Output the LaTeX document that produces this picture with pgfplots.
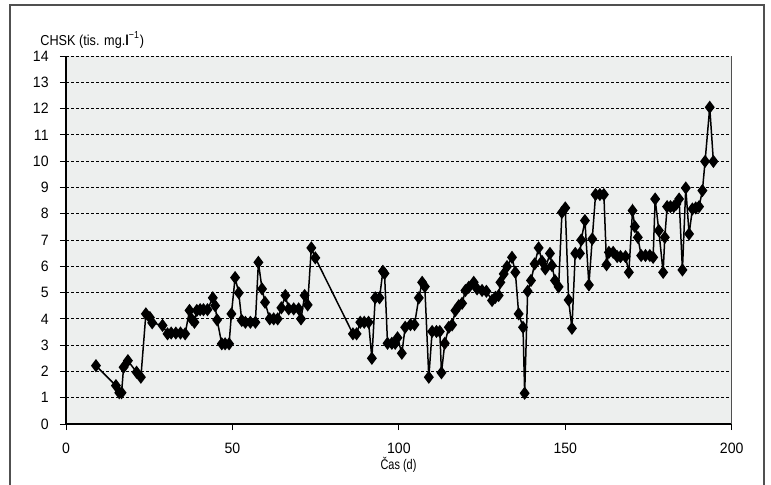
\documentclass[border=0pt]{standalone}
\usepackage{fontspec}
\setmainfont{Liberation Sans}[FakeStretch=0.94]
\newfontfamily\labelfont{Liberation Sans}[FakeStretch=0.88]
\newfontfamily\narrowfont{Liberation Sans}[FakeStretch=0.78]
\usepackage{pgfplots}
\pgfplotsset{compat=1.18}
\definecolor{bgc}{HTML}{EDEFEE}
\definecolor{frm}{HTML}{505050}
\pgfplotstableread{
x y
9.0 2.22
15.0 1.46
16.0 1.19
16.7 1.19
17.3 2.16
18.6 2.41
21.2 1.97
22.5 1.78
24.0 4.19
25.2 4.05
25.9 3.85
29.0 3.75
30.5 3.43
31.6 3.46
33.0 3.46
34.4 3.46
35.8 3.43
37.1 4.32
37.8 3.98
38.6 3.87
39.3 4.32
40.3 4.35
41.3 4.35
42.5 4.35
44.1 4.80
44.8 4.50
45.4 3.96
46.8 3.05
47.8 3.05
49.0 3.05
49.7 4.19
50.8 5.57
51.9 4.99
52.8 3.94
53.9 3.87
55.4 3.87
56.9 3.87
57.8 6.15
58.9 5.14
59.8 4.63
61.2 4.00
62.4 4.00
63.6 4.00
64.7 4.42
65.9 4.89
66.9 4.38
68.4 4.38
69.9 4.38
70.6 4.00
71.7 4.89
72.6 4.53
73.7 6.70
74.9 6.32
86.2 3.43
87.3 3.43
88.4 3.87
89.6 3.87
90.9 3.87
91.9 2.50
92.9 4.80
94.2 4.80
95.2 5.81
95.7 5.73
96.6 3.07
97.9 3.07
98.9 3.07
99.6 3.28
100.9 2.69
101.9 3.68
103.5 3.78
104.7 3.78
106.0 4.80
107.0 5.39
107.8 5.23
109.0 1.78
110.0 3.52
111.3 3.52
112.3 3.52
112.8 1.95
113.8 3.07
115.0 3.68
116.0 3.77
117.0 4.32
118.0 4.50
119.0 4.59
120.0 5.08
121.0 5.20
122.5 5.39
123.5 5.14
125.0 5.08
126.3 5.05
128.0 4.70
129.0 4.82
130.0 4.89
130.5 5.39
131.5 5.71
132.5 5.99
134.0 6.34
135.0 5.77
136.0 4.19
137.3 3.68
137.8 1.17
138.7 5.05
139.7 5.46
140.8 6.09
142.0 6.70
143.0 6.19
144.0 5.90
145.4 6.49
146.0 6.03
146.9 5.46
148.0 5.22
149.0 8.05
150.0 8.22
151.0 4.72
152.0 3.64
153.0 6.49
154.4 6.49
154.8 7.00
155.9 7.74
157.1 5.29
158.1 7.04
159.1 8.73
160.4 8.73
161.6 8.73
162.4 6.06
163.1 6.53
164.4 6.53
165.6 6.37
166.6 6.37
168.1 6.37
169.1 5.77
170.2 8.12
170.9 7.51
171.8 7.10
172.8 6.41
174.1 6.41
175.4 6.41
176.4 6.34
177.0 8.56
178.1 7.36
179.4 5.77
179.9 7.10
180.6 8.27
181.6 8.27
182.6 8.27
183.4 8.37
184.2 8.56
185.2 5.86
186.2 8.98
187.2 7.23
188.2 8.18
189.2 8.22
190.2 8.27
191.2 8.88
192.0 9.99
193.4 12.05
194.5 9.99
}\datatable
\begin{document}
\begin{tikzpicture}
\useasboundingbox (0,0) rectangle (385.5pt,242pt);
\draw[frm, line width=0.6pt] (5pt,-5pt) rectangle (382pt,239.5pt);
\begin{axis}[
  at={(33pt,30pt)}, anchor=south west,
  scale only axis, width=332.85pt, height=184pt,
  xmin=0, xmax=200, ymin=0, ymax=14,
  xtick={0,50,...,200}, ytick={0,1,...,14},
  axis background/.style={fill=bgc},
  axis x line*=bottom, axis y line*=left,
  axis line style={black, line width=0.6pt},
  tick align=outside, major tick length=3pt,
  tick style={black, line width=0.5pt},
  ymajorgrids,
  grid style={black, dash pattern=on 1.5pt off 1pt, line width=0.45pt},
  /pgf/number format/assume math mode=true,
  ticklabel style={font=\fontsize{7.5}{8.5}\selectfont},
  yticklabel style={inner sep=0pt, xshift=-5.5pt},
  xticklabel style={inner sep=0pt, yshift=-6.5pt},
  clip=false,
]
\draw[frm, line width=0.6pt] (axis cs:200,0) -- (axis cs:200,14);
\addplot[black, line width=0.75pt, mark=diamond*, mark size=2.7pt,
  mark options={solid, fill=black}] table[x=x, y=y] {\datatable};
\end{axis}
\node[anchor=base west, inner sep=0pt, font=\fontsize{7.2}{8}\labelfont] at (20pt,219.5pt) {CHSK (tis. mg.\textbf{l}\textsuperscript{−1})};
\node[anchor=base, inner sep=0pt, font=\fontsize{7}{8}\narrowfont] at (199.25pt,7.35pt) {Čas (d)};
\end{tikzpicture}
\end{document}
